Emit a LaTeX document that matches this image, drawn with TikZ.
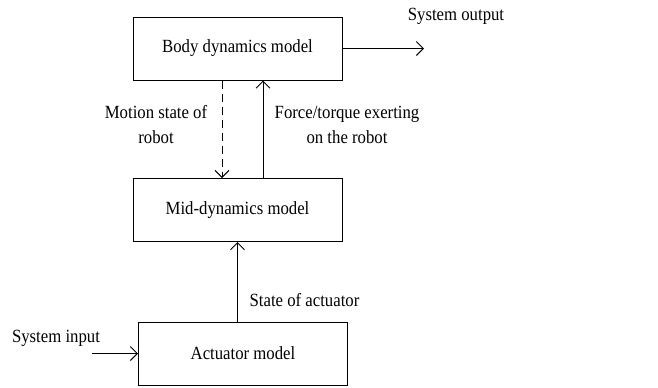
\documentclass[tikz,border=0pt]{standalone}
\usepackage{fontspec}
\setmainfont{Liberation Serif}[FakeStretch=0.9]
\usetikzlibrary{arrows.meta,positioning,calc}

\begin{document}
\begin{tikzpicture}[x=0.5pt,y=-0.5pt,
  block/.style={draw,line width=0.5pt,minimum width=104.5pt,minimum height=31.5pt,inner sep=0pt,font=\fontsize{9.3}{12.5}\selectfont},
  lbl/.style={align=center,inner sep=0pt,font=\fontsize{9.3}{12.5}\selectfont},
  conn/.style={line width=0.5pt,-{Straight Barb[length=3.5pt,width=7pt]}}]
\useasboundingbox (0,0) rectangle (658,387);
% Step 1: the three model blocks
\node[block] (body) at (237.5,48.5) {Body dynamics model};
\node[block] (mid) at (237.5,210) {Mid-dynamics model};
\node[block] (act) at (243,353.5) {Actuator model};
% Step 2: free ends of input and output
\coordinate (sysout) at (424,48.5);
\coordinate (sysin) at (92,353.5);
% Step 3: connectors
\draw[conn] (body.east) -- (sysout);
\draw[conn] (sysin) -- (act.west);
\draw[conn,dashed,dash pattern=on 4pt off 2.5pt] ([xshift=-7.75pt]body.south) -- ([xshift=-7.75pt]mid.north);
\draw[conn] ([xshift=12.75pt]mid.north) -- ([xshift=12.75pt]body.south);
\draw[conn] (mid.south |- act.north) -- (mid.south);
% Step 4: labels
\node[lbl] (outlbl) at (456,16) {System output};
\node[lbl] (inlbl) at (56,338) {System input};
\node[lbl] (motion) at (156,125) {Motion state of\\robot};
\node[lbl] (force) at (347,125) {Force/torque exerting\\on the robot};
\node[lbl] (state) at (304.5,300) {State of actuator};
\end{tikzpicture}
\end{document}
